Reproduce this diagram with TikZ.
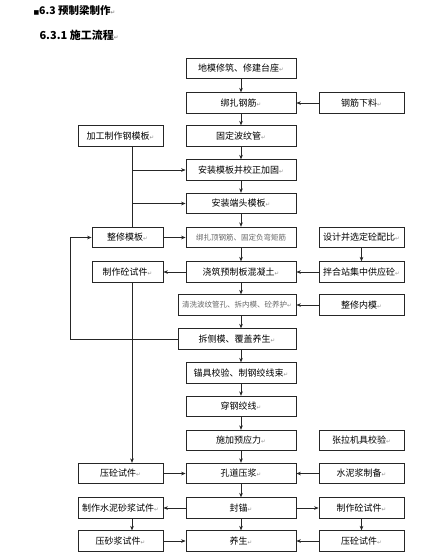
\documentclass[tikz,border=0pt]{standalone}
\usepackage{fontspec}
\setmainfont{Noto Sans CJK SC}
\newfontfamily\symfont{DejaVu Sans}
\usetikzlibrary{arrows.meta,calc}

% Word paragraph mark after each text
\newcommand{\parmk}{{\symfont\color{black!45}\fontsize{5.5}{6}\selectfont ↵}}

\begin{document}
\begin{tikzpicture}[x=1pt,y=-1pt,>={Stealth[length=4.5pt,width=3.6pt]},
  mainbox/.style={draw=black!85,line width=0.8pt,minimum width=110pt,minimum height=20.5pt,inner sep=0pt,font=\fontsize{9}{9}\selectfont},
  widebox/.style={mainbox,minimum width=118pt},
  sidebox/.style={mainbox,minimum width=85pt},
  narrowbox/.style={mainbox,minimum width=71pt},
  faint/.style={font=\fontsize{7.5}{7.5}\selectfont,text=black!60},
  link/.style={draw=black!85,line width=0.6pt}]
  \useasboundingbox (0,0) rectangle (435,560);
  % ---------------- headings ----------------
  \node[anchor=west,font=\fontsize{10.5}{10.5}\selectfont\bfseries] (h1) at (30,11) {{\symfont\fontsize{6}{6}\selectfont ■}6.3 预制梁制作\parmk};
  \node[anchor=west,font=\fontsize{11}{11}\selectfont\bfseries] (h2) at (36,35) {6.3.1 施工流程\parmk};
  % ---------------- main column ----------------
  \node[mainbox] (m1) at (241,68.5) {地模修筑、修建台座\parmk};
  \node[mainbox] (m2) at (241,103) {绑扎钢筋\parmk};
  \node[mainbox] (m3) at (241,136) {固定波纹管\parmk};
  \node[mainbox] (m4) at (241,170) {安装模板并校正加固\parmk};
  \node[mainbox] (m5) at (241,203.5) {安装端头模板\parmk};
  \node[mainbox,faint] (m6) at (241,237.5) {绑扎顶钢筋、固定负弯矩筋};
  \node[mainbox] (m7) at (241,272) {浇筑预制板混凝土\parmk};
  \node[widebox,faint] (m8) at (237,305) {清洗波纹管孔、拆内模、砼养护\parmk};
  \node[widebox] (m9) at (237,339) {拆侧模、覆盖养生\parmk};
  \node[mainbox] (m10) at (241,373) {锚具校验、制钢绞线束\parmk};
  \node[mainbox] (m11) at (241,406.5) {穿钢绞线\parmk};
  \node[mainbox] (m12) at (241,440.5) {施加预应力\parmk};
  \node[mainbox] (m13) at (241,473.5) {孔道压浆\parmk};
  \node[mainbox] (m14) at (241,508) {封锚\parmk};
  \node[mainbox] (m15) at (241,541) {养生\parmk};
  % ---------------- right column ----------------
  \node[sidebox] (gx) at (361.5,103) {钢筋下料\parmk};
  \node[sidebox] (sj) at (361.5,237.5) {设计并选定砼配比\parmk};
  \node[sidebox] (bh) at (361.5,272) {拌合站集中供应砼\parmk};
  \node[sidebox] (nm) at (361.5,305) {整修内模\parmk};
  \node[sidebox] (zl) at (361.5,440.5) {张拉机具校验\parmk};
  \node[sidebox] (sn) at (361.5,473.5) {水泥浆制备\parmk};
  \node[sidebox] (zsr) at (361.5,508) {制作砼试件\parmk};
  \node[sidebox] (ysr) at (361.5,541) {压砼试件\parmk};
  % ---------------- left column ----------------
  \node[sidebox] (jg) at (120.5,136) {加工制作钢模板\parmk};
  \node[narrowbox] (zx) at (127.5,237.5) {整修模板\parmk};
  \node[narrowbox] (zsl) at (127.5,272) {制作砼试件\parmk};
  \node[sidebox] (ysl) at (120.5,473.5) {压砼试件\parmk};
  \node[sidebox] (zsj) at (120.5,508) {制作水泥砂浆试件\parmk};
  \node[sidebox] (ysj) at (120.5,541) {压砂浆试件\parmk};
  \coordinate (vl) at (132,0);
  \coordinate (lp) at (70,0);
  % ---------------- connectors ----------------
  \foreach \k [evaluate=\k as \n using int(\k+1)] in {1,...,14}
    \draw[link,->] (m\k.south -| m1) -- (m\n.north -| m1);
  \foreach \a/\b in {gx/m2,bh/m7,nm/m8,sn/m13,ysr/m15,zx/m6,ysl/m13,ysj/m15,m7/zsl,m14/zsj,m14/zsr,sj/bh,zsr/ysr}
    \draw[link,->] (\a) -- (\b);
  \draw[link] (jg.south -| vl) -- (zx.north -| vl);
  \draw[link,->] (vl |- m4) -- (m4.west);
  \draw[link,->] (vl |- m5) -- (m5.west);
  \draw[link,->] (zsl.south -| vl) -- (ysl.north -| vl);
  \draw[link,->] (zsj.south -| vl) -- (ysj.north -| vl);
  \draw[link,->] (m9.west) -- (m9.west -| lp) -- (zx.west -| lp) -- (zx.west);
\end{tikzpicture}
\end{document}
